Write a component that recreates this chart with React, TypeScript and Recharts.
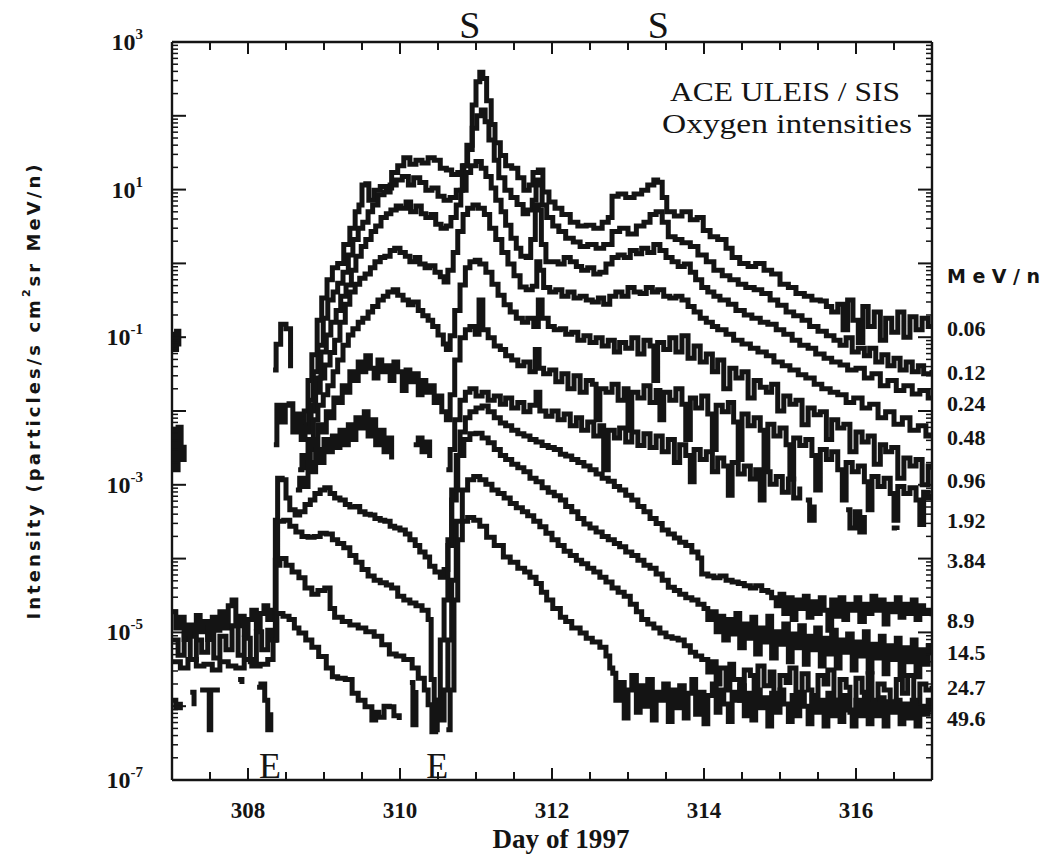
import { LineChart, Line, XAxis, YAxis } from "recharts"

type Pt = [number, number | null]

// Axis ticks
const DAY_TICKS = [307.5, 308, 308.5, 309, 309.5, 310, 310.5, 311, 311.5, 312, 312.5, 313, 313.5, 314, 314.5, 315, 315.5, 316, 316.5]
const DAY_LABELS = [308, 310, 312, 314, 316]
const DECADES = [-7, -6, -5, -4, -3, -2, -1, 0, 1, 2, 3]
const LABELED_DECADES = [3, 1, -1, -3, -5, -7]
const MINOR_STEPS = [2, 3, 4, 5, 6, 7, 8, 9]

// Event markers: S = shock, E = ejecta boundary
const SHOCK_DAYS = [310.92, 313.4]
const EJECTA_DAYS = [308.29, 310.49]

// Energy channels (MeV/n), top to bottom
const CHANNELS = ["0.06", "0.12", "0.24", "0.48", "0.96", "1.92", "3.84", "8.9", "14.5", "24.7", "49.6"]

// Oxygen intensities, [day of 1997, particles/(s cm2 sr MeV/n)]; null = data gap
const o006: Pt[] = [
  [307.0, 1.1e-1], [307.03, 6.8e-2], [307.06, 1.2e-1], [307.09, 7.5e-2], [307.1, null],
  [308.33, 3.6e-2], [308.37, 8.0e-2], [308.43, 1.5e-1], [308.5, 1.3e-1], [308.56, 3.8e-2], [308.6, null],
  [308.71, 6.5e-3], [308.74, 1.0e-2], [308.79, 2.6e-2], [308.84, 5.8e-2], [308.91, 1.7e-1], [308.97, 3.4e-1],
  [309.04, 6.0e-1], [309.11, 8.7e-1], [309.18, 1.0], [309.26, 1.8], [309.34, 3.0], [309.41, 5.0], [309.46, 6.2],
  [309.5, 11.5], [309.55, 12], [309.59, 7.2], [309.66, 9.8], [309.74, 11], [309.82, 10.5], [309.89, 17],
  [309.97, 21], [310.05, 27], [310.13, 22], [310.21, 25], [310.29, 23], [310.37, 27], [310.45, 25],
  [310.53, 19.5], [310.61, 18.5], [310.68, 16], [310.76, 17], [310.84, 21], [310.89, 35], [310.95, 140],
  [311.0, 290], [311.05, 390], [311.09, 320], [311.14, 160], [311.2, 76], [311.25, 43], [311.32, 29],
  [311.39, 21], [311.47, 19.5], [311.55, 14.5], [311.63, 9.8], [311.7, 11.5], [311.75, 17], [311.82, 18.5],
  [311.88, 9.3], [311.96, 6.8], [312.04, 5.6], [312.13, 4.6], [312.24, 3.6], [312.34, 3.2], [312.45, 3.3],
  [312.55, 3.0], [312.66, 3.6], [312.74, 4.2], [312.79, 8.1], [312.87, 8.7], [312.97, 7.8], [313.08, 8.7],
  [313.18, 9.8], [313.26, 11.5], [313.34, 13.5], [313.39, 12.6], [313.45, 7.8], [313.51, 5.0], [313.61, 4.4],
  [313.71, 5.0], [313.82, 3.9], [313.91, 4.2], [313.99, 2.8], [314.08, 2.3], [314.18, 2.1], [314.29, 1.6],
  [314.37, 1.2], [314.47, 1.0], [314.58, 0.91], [314.68, 1.0], [314.79, 0.81], [314.89, 0.72], [315.0, 0.52],
  [315.11, 0.47], [315.21, 0.39], [315.32, 0.36], [315.42, 0.32], [315.53, 0.31], [315.61, 0.26], [315.68, 0.22],
  [315.76, 0.28], [315.83, 0.126], [315.89, 0.32], [315.96, 0.17], [316.03, 0.085], [316.09, 0.26], [316.16, 0.14],
  [316.24, 0.22], [316.32, 0.091], [316.39, 0.18], [316.47, 0.117], [316.55, 0.22], [316.63, 0.1], [316.71, 0.19],
  [316.79, 0.126], [316.87, 0.18], [316.95, 0.14], [317.0, 0.15],
]

const o012: Pt[] = [
  [308.75, 6.5e-3], [308.8, 1.4e-2], [308.86, 3.4e-2], [308.92, 7.8e-2], [308.99, 1.8e-1], [309.05, 3.2e-1],
  [309.12, 4.1e-1], [309.18, 5.4e-1], [309.25, 7.6e-1], [309.32, 1.3], [309.38, 2.1], [309.45, 3.0], [309.51, 3.6],
  [309.58, 5.0], [309.64, 6.2], [309.71, 8.5], [309.79, 9.3], [309.87, 11.5], [309.95, 13.5], [310.03, 15],
  [310.11, 11.5], [310.18, 14.5], [310.26, 12.5], [310.34, 9.8], [310.42, 10.5], [310.5, 8.1], [310.58, 7.2],
  [310.66, 7.8], [310.74, 9.8], [310.82, 21], [310.88, 40], [310.95, 68], [311.01, 100], [311.07, 120],
  [311.12, 83], [311.17, 47], [311.24, 25], [311.3, 14.5], [311.38, 9.8], [311.46, 7.8], [311.54, 6.3],
  [311.62, 4.7], [311.68, 5.3], [311.74, 7.2], [311.79, 13.5], [311.83, 11.5], [311.87, 6.2], [311.93, 4.2],
  [312.01, 3.2], [312.09, 2.7], [312.18, 2.2], [312.28, 1.95], [312.37, 1.7], [312.47, 1.8], [312.58, 1.6],
  [312.68, 1.8], [312.79, 2.7], [312.89, 3.0], [313.0, 2.5], [313.11, 3.2], [313.21, 3.6], [313.29, 4.6],
  [313.37, 5.0], [313.45, 3.6], [313.53, 2.3], [313.62, 2.1], [313.71, 1.9], [313.82, 1.7], [313.92, 1.3],
  [314.03, 1.05], [314.13, 0.81], [314.24, 0.68], [314.34, 0.6], [314.45, 0.52], [314.55, 0.47], [314.66, 0.44],
  [314.76, 0.39], [314.87, 0.32], [314.97, 0.27], [315.08, 0.22], [315.18, 0.195], [315.29, 0.17], [315.39, 0.14],
  [315.5, 0.12], [315.61, 0.105], [315.71, 0.091], [315.79, 0.078], [315.87, 0.098], [315.95, 0.063],
  [316.03, 0.071], [316.11, 0.056], [316.18, 0.071], [316.26, 0.046], [316.34, 0.058], [316.42, 0.041],
  [316.5, 0.052], [316.58, 0.036], [316.66, 0.046], [316.74, 0.034], [316.82, 0.041], [316.89, 0.032], [317.0, 0.036],
]

const o024: Pt[] = [
  [308.76, 5.2e-3], [308.83, 1.2e-2], [308.89, 2.8e-2], [308.96, 6.3e-2], [309.03, 1.07e-1], [309.09, 1.6e-1],
  [309.16, 2.3e-1], [309.22, 3.6e-1], [309.29, 5.1e-1], [309.36, 8.1e-1], [309.42, 1.25], [309.49, 1.7],
  [309.55, 2.1], [309.62, 2.7], [309.68, 3.2], [309.75, 4.2], [309.82, 4.7], [309.88, 5.3], [309.95, 6.0],
  [310.01, 5.6], [310.08, 6.8], [310.14, 5.0], [310.21, 6.0], [310.28, 4.7], [310.34, 4.2], [310.41, 4.6],
  [310.47, 3.4], [310.54, 3.0], [310.61, 3.2], [310.67, 4.2], [310.74, 6.2], [310.8, 9.8], [310.87, 17],
  [310.93, 21], [311.0, 24], [311.07, 19.5], [311.13, 15], [311.2, 10.5], [311.26, 7.2], [311.33, 5.0],
  [311.39, 3.3], [311.46, 2.2], [311.53, 1.6], [311.59, 1.25], [311.66, 1.2], [311.72, 2.1], [311.78, 6.2],
  [311.82, 5.3], [311.86, 1.8], [311.92, 1.05], [312.0, 1.05], [312.08, 0.98], [312.16, 1.2], [312.24, 1.05],
  [312.32, 0.91], [312.39, 0.81], [312.47, 0.87], [312.55, 0.72], [312.63, 0.76], [312.71, 0.98], [312.79, 1.2],
  [312.87, 1.3], [312.95, 1.2], [313.03, 1.5], [313.11, 1.35], [313.18, 1.6], [313.26, 1.4], [313.34, 1.8],
  [313.42, 1.5], [313.5, 1.2], [313.58, 1.05], [313.66, 0.91], [313.74, 0.98], [313.82, 0.76], [313.89, 0.6],
  [313.97, 0.47], [314.05, 0.41], [314.13, 0.36], [314.21, 0.32], [314.32, 0.28], [314.42, 0.23], [314.53, 0.2],
  [314.63, 0.18], [314.74, 0.16], [314.84, 0.15], [314.95, 0.126], [315.05, 0.11], [315.16, 0.091], [315.26, 0.078],
  [315.37, 0.071], [315.47, 0.059], [315.58, 0.052], [315.68, 0.046], [315.79, 0.042], [315.89, 0.036],
  [316.0, 0.038], [316.11, 0.028], [316.21, 0.032], [316.32, 0.022], [316.42, 0.026], [316.53, 0.019],
  [316.63, 0.022], [316.74, 0.017], [316.84, 0.019], [316.95, 0.015], [317.0, 0.016],
]

const o048: Pt[] = [
  [308.34, 3.5e-3], [308.38, 1.2e-2], [308.43, 7.1e-3], [308.49, 1.2e-2], [308.54, 1.25e-2], [308.59, 5.2e-3],
  [308.64, 9.1e-3], [308.7, 4.1e-3], [308.75, 5.9e-3], [308.82, 1.0e-2], [308.88, 1.8e-2], [308.95, 2.8e-2],
  [309.01, 4.2e-2], [309.08, 6.2e-2], [309.14, 9.1e-2], [309.21, 1.6e-1], [309.28, 2.8e-1], [309.34, 4.1e-1],
  [309.41, 5.2e-1], [309.47, 6.3e-1], [309.54, 7.2e-1], [309.61, 8.7e-1], [309.67, 1.05], [309.74, 1.2],
  [309.8, 1.25], [309.87, 1.5], [309.93, 1.6], [310.0, 1.4], [310.07, 1.25], [310.13, 1.05], [310.2, 1.2],
  [310.26, 0.98], [310.33, 0.87], [310.39, 0.93], [310.46, 0.76], [310.53, 0.66], [310.58, 0.56], [310.63, 0.81],
  [310.7, 1.4], [310.76, 2.7], [310.83, 4.6], [310.89, 5.6], [310.96, 6.2], [311.03, 5.6], [311.11, 4.6],
  [311.18, 3.0], [311.26, 2.1], [311.34, 1.4], [311.42, 0.98], [311.5, 0.68], [311.58, 0.48], [311.66, 0.44],
  [311.74, 0.49], [311.8, 1.05], [311.84, 0.81], [311.89, 0.47], [311.97, 0.41], [312.05, 0.44], [312.13, 0.36],
  [312.21, 0.41], [312.29, 0.34], [312.37, 0.36], [312.45, 0.32], [312.53, 0.3], [312.61, 0.34], [312.68, 0.28],
  [312.76, 0.36], [312.84, 0.41], [312.92, 0.36], [313.0, 0.47], [313.08, 0.41], [313.16, 0.39], [313.24, 0.47],
  [313.32, 0.41], [313.39, 0.44], [313.47, 0.36], [313.55, 0.34], [313.63, 0.36], [313.71, 0.32], [313.79, 0.26],
  [313.87, 0.22], [313.95, 0.18], [314.03, 0.16], [314.11, 0.14], [314.18, 0.126], [314.29, 0.11], [314.39, 0.091],
  [314.5, 0.081], [314.61, 0.071], [314.71, 0.063], [314.82, 0.056], [314.92, 0.046], [315.03, 0.041],
  [315.13, 0.036], [315.24, 0.031], [315.34, 0.028], [315.45, 0.023], [315.55, 0.02], [315.66, 0.018],
  [315.76, 0.0166], [315.87, 0.013], [315.97, 0.015], [316.08, 0.011], [316.18, 0.0123], [316.29, 0.0081],
  [316.39, 0.0098], [316.5, 0.0066], [316.61, 0.0081], [316.71, 0.0055], [316.82, 0.0063], [316.92, 0.0046],
  [317.0, 0.0049],
]

const o096: Pt[] = [
  [307.0, 5.5e-3], [307.04, 1.6e-3], [307.08, 6.0e-3], [307.12, 2.2e-3], [307.16, 3.5e-3], [307.18, null],
  [308.72, 2.0e-3], [308.79, 4.1e-3], [308.86, 7.6e-3], [308.92, 1.2e-2], [308.99, 1.66e-2], [309.05, 2.2e-2],
  [309.12, 3.4e-2], [309.18, 4.9e-2], [309.25, 7.8e-2], [309.32, 1.07e-1], [309.38, 1.3e-1], [309.45, 1.6e-1],
  [309.51, 1.8e-1], [309.58, 2.2e-1], [309.64, 2.6e-1], [309.71, 3.2e-1], [309.78, 3.6e-1], [309.84, 4.1e-1],
  [309.91, 4.4e-1], [309.97, 3.7e-1], [310.04, 3.2e-1], [310.11, 2.75e-1], [310.17, 3.0e-1], [310.24, 2.3e-1],
  [310.3, 1.95e-1], [310.37, 1.7e-1], [310.43, 1.4e-1], [310.5, 1.07e-1], [310.57, 8.1e-2], [310.61, 6.8e-2],
  [310.66, 1.05e-1], [310.72, 2.3e-1], [310.79, 5.1e-1], [310.86, 8.7e-1], [310.92, 1.05], [310.99, 1.1],
  [311.05, 0.98], [311.13, 0.76], [311.21, 0.52], [311.29, 0.37], [311.37, 0.275], [311.45, 0.22], [311.53, 0.18],
  [311.61, 0.16], [311.68, 0.18], [311.76, 0.14], [311.82, 0.32], [311.87, 0.18], [311.95, 0.14], [312.03, 0.126],
  [312.11, 0.13], [312.18, 0.11], [312.26, 0.117], [312.34, 0.091], [312.42, 0.105], [312.5, 0.085],
  [312.58, 0.098], [312.66, 0.076], [312.74, 0.091], [312.82, 0.063], [312.89, 0.085], [312.97, 0.071],
  [313.05, 0.098], [313.13, 0.059], [313.21, 0.091], [313.29, 0.076], [313.34, 0.026], [313.39, 0.085],
  [313.47, 0.068], [313.55, 0.098], [313.63, 0.063], [313.71, 0.105], [313.79, 0.052], [313.87, 0.076],
  [313.95, 0.046], [314.03, 0.059], [314.11, 0.034], [314.18, 0.049], [314.26, 0.02], [314.34, 0.038],
  [314.42, 0.028], [314.5, 0.034], [314.58, 0.015], [314.66, 0.026], [314.74, 0.021], [314.82, 0.018],
  [314.89, 0.023], [314.97, 0.01], [315.05, 0.016], [315.13, 0.0123], [315.21, 0.014], [315.29, 0.0065],
  [315.37, 0.011], [315.45, 0.0089], [315.53, 0.0098], [315.61, 0.0041], [315.68, 0.0076], [315.76, 0.0059],
  [315.84, 0.0066], [315.92, 0.0028], [316.0, 0.0052], [316.08, 0.0038], [316.16, 0.0046], [316.24, 0.0019],
  [316.32, 0.0035], [316.39, 0.0028], [316.47, 0.0032], [316.55, 0.00123], [316.63, 0.0023], [316.71, 0.0018],
  [316.79, 0.0022], [316.87, 0.001], [316.95, 0.0018], [317.0, 0.0016],
]

const o192: Pt[] = [
  [308.66, 1.6e-3], [308.71, 2.5e-3], [308.76, 1.7e-3], [308.82, 4.1e-3], [308.87, 3.0e-3], [308.92, 6.5e-3],
  [308.97, 5.2e-3], [309.03, 9.8e-3], [309.08, 8.1e-3], [309.13, 1.5e-2], [309.18, 1.3e-2], [309.24, 2.2e-2],
  [309.29, 1.8e-2], [309.34, 3.4e-2], [309.39, 2.6e-2], [309.45, 4.6e-2], [309.5, 3.4e-2], [309.55, 5.6e-2],
  [309.61, 3.8e-2], [309.66, 2.8e-2], [309.71, 4.9e-2], [309.76, 3.4e-2], [309.82, 4.1e-2], [309.87, 2.6e-2],
  [309.92, 4.6e-2], [309.97, 3.4e-2], [310.03, 1.9e-2], [310.08, 3.6e-2], [310.13, 2.5e-2], [310.18, 3.2e-2],
  [310.24, 1.66e-2], [310.29, 2.6e-2], [310.34, 1.8e-2], [310.39, 2.2e-2], [310.45, 1.3e-2], [310.5, 1.6e-2],
  [310.55, 9.8e-3], [310.61, 7.6e-3], [310.66, 1.66e-2], [310.72, 4.9e-2], [310.79, 9.8e-2], [310.86, 1.26e-1],
  [310.92, 1.4e-1], [310.99, 1.1e-1], [311.04, 3.2e-1], [311.09, 1.26e-1], [311.16, 9.8e-2], [311.24, 7.6e-2],
  [311.32, 6.8e-2], [311.39, 5.6e-2], [311.47, 4.9e-2], [311.55, 4.1e-2], [311.63, 4.6e-2], [311.71, 3.4e-2],
  [311.78, 6.8e-2], [311.83, 3.8e-2], [311.89, 3.2e-2], [311.97, 3.6e-2], [312.05, 2.5e-2], [312.13, 3.2e-2],
  [312.21, 2.0e-2], [312.29, 3.0e-2], [312.37, 1.8e-2], [312.45, 2.6e-2], [312.53, 2.3e-2], [312.58, 7.6e-3],
  [312.63, 2.0e-2], [312.71, 1.8e-2], [312.79, 2.3e-2], [312.87, 1.4e-2], [312.95, 2.0e-2], [313.0, 5.5e-3],
  [313.05, 1.8e-2], [313.13, 1.5e-2], [313.21, 2.2e-2], [313.29, 1.3e-2], [313.37, 1.9e-2], [313.42, 7.6e-3],
  [313.47, 1.8e-2], [313.55, 1.4e-2], [313.63, 2.0e-2], [313.71, 1.23e-2], [313.76, 4.1e-3], [313.82, 1.5e-2],
  [313.89, 1.1e-2], [313.97, 1.6e-2], [314.05, 9.1e-3], [314.11, 3.0e-3], [314.16, 1.2e-2], [314.24, 9.8e-3],
  [314.32, 1.3e-2], [314.39, 7.1e-3], [314.45, 2.2e-3], [314.5, 9.1e-3], [314.58, 6.3e-3], [314.66, 8.1e-3],
  [314.74, 5.5e-3], [314.79, 1.7e-3], [314.84, 6.6e-3], [314.92, 4.6e-3], [315.0, 5.9e-3], [315.08, 3.5e-3],
  [315.13, 1.2e-3], [315.18, 4.3e-3], [315.26, 3.4e-3], [315.34, 4.1e-3], [315.42, 2.5e-3], [315.47, 8.5e-4],
  [315.53, 3.0e-3], [315.61, 2.2e-3], [315.68, 2.8e-3], [315.76, 1.6e-3], [315.82, 6.2e-4], [315.87, 2.0e-3],
  [315.95, 1.5e-3], [316.03, 1.8e-3], [316.11, 1.1e-3], [316.16, 4.6e-4], [316.21, 1.3e-3], [316.29, 9.5e-4],
  [316.37, 1.23e-3], [316.45, 7.6e-4], [316.5, 3.3e-4], [316.55, 9.5e-4], [316.63, 7.6e-4], [316.71, 9.1e-4],
  [316.79, 6.2e-4], [316.84, 2.9e-4], [316.89, 7.9e-4], [316.95, 6.6e-4], [317.0, 7.6e-4],
]

const o384: Pt[] = [
  [308.63, 8.5e-4], [308.68, 1.23e-3], [308.74, 9.5e-4], [308.79, 2.0e-3], [308.84, 1.5e-3], [308.89, 3.0e-3],
  [308.95, 2.0e-3], [309.0, 4.1e-3], [309.05, 2.8e-3], [309.11, 4.6e-3], [309.16, 3.2e-3], [309.21, 5.5e-3],
  [309.26, 3.5e-3], [309.32, 6.5e-3], [309.37, 4.1e-3], [309.42, 8.1e-3], [309.47, 5.9e-3], [309.53, 9.8e-3],
  [309.58, 4.6e-3], [309.63, 7.6e-3], [309.68, 3.5e-3], [309.74, 5.5e-3], [309.79, 2.8e-3], [309.84, 4.3e-3],
  [309.89, 2.2e-3], [309.9, null],
  [310.18, 3.5e-3], [310.24, 4.3e-3], [310.29, 2.8e-3], [310.34, 3.8e-3], [310.39, 2.3e-3], [310.4, null],
  [310.61, 1.6e-3], [310.66, 3.0e-3], [310.72, 7.6e-3], [310.79, 1.4e-2], [310.86, 1.8e-2], [310.92, 2.0e-2],
  [311.0, 1.6e-2], [311.08, 1.8e-2], [311.16, 1.4e-2], [311.24, 1.6e-2], [311.32, 1.23e-2], [311.39, 1.5e-2],
  [311.47, 1.1e-2], [311.55, 1.3e-2], [311.63, 9.8e-3], [311.71, 1.2e-2], [311.79, 1.8e-2], [311.84, 1.0e-2],
  [311.92, 8.5e-3], [312.0, 1.0e-2], [312.08, 7.6e-3], [312.16, 9.1e-3], [312.24, 6.3e-3], [312.32, 8.1e-3],
  [312.39, 5.5e-3], [312.47, 7.1e-3], [312.55, 4.6e-3], [312.63, 6.3e-3], [312.68, 1.6e-3], [312.74, 5.5e-3],
  [312.82, 4.3e-3], [312.89, 5.9e-3], [312.97, 3.8e-3], [313.05, 5.2e-3], [313.13, 3.4e-3], [313.21, 4.9e-3],
  [313.29, 3.2e-3], [313.37, 4.6e-3], [313.45, 2.8e-3], [313.53, 4.1e-3], [313.61, 2.0e-3], [313.68, 3.5e-3],
  [313.76, 2.5e-3], [313.82, 1.1e-3], [313.87, 3.0e-3], [313.95, 2.2e-3], [314.03, 2.8e-3], [314.11, 1.5e-3],
  [314.18, 2.3e-3], [314.26, 1.8e-3], [314.32, 7.2e-4], [314.37, 2.0e-3], [314.45, 1.4e-3], [314.53, 1.8e-3],
  [314.61, 1.2e-3], [314.68, 1.6e-3], [314.74, 6.2e-4], [314.79, 1.5e-3], [314.87, 1.02e-3], [314.95, 1.3e-3],
  [315.03, 7.9e-4], [315.11, 1.2e-3], [315.18, 6.6e-4], [315.26, 9.5e-4], [315.28, null],
  [315.34, 6.2e-4], [315.39, 3.3e-4], [315.45, 5.4e-4], [315.47, null],
  [315.87, 4.6e-4], [315.92, 2.6e-4], [315.99, 4.3e-4], [316.05, 2.3e-4], [316.11, 3.9e-4], [316.13, null],
  [316.47, 2.6e-4], [316.54, 2.45e-4], [316.56, null],
]

const s089: Pt[] = [
  [307.0, 1.9e-5], [307.05, 1.15e-5], [307.11, 1.6e-5], [307.16, 8.0e-6], [307.21, 1.26e-5], [307.26, 8.9e-6],
  [307.32, 1.7e-5], [307.37, 1.02e-5], [307.42, 1.4e-5], [307.47, 8.0e-6], [307.53, 1.6e-5], [307.58, 1.07e-5],
  [307.63, 1.9e-5], [307.68, 1.15e-5], [307.74, 2.3e-5], [307.79, 2.75e-5], [307.84, 1.23e-5], [307.89, 1.66e-5],
  [307.95, 9.5e-6], [308.0, 1.5e-5], [308.05, 2.0e-5], [308.11, 1.15e-5], [308.16, 1.8e-5], [308.21, 2.3e-5],
  [308.26, 1.5e-5], [308.32, 2.0e-5], [308.36, 3.3e-4], [308.39, 1.23e-3], [308.45, 1.17e-3], [308.5, 6.6e-4],
  [308.55, 4.6e-4], [308.62, 3.9e-4], [308.68, 4.3e-4], [308.75, 5.4e-4], [308.82, 6.2e-4], [308.88, 7.6e-4],
  [308.95, 8.5e-4], [309.01, 9.1e-4], [309.08, 7.6e-4], [309.14, 6.6e-4], [309.21, 6.2e-4], [309.28, 5.4e-4],
  [309.34, 5.0e-4], [309.41, 5.1e-4], [309.47, 4.3e-4], [309.54, 4.0e-4], [309.61, 3.9e-4], [309.67, 3.5e-4],
  [309.74, 3.3e-4], [309.8, 3.2e-4], [309.87, 2.75e-4], [309.93, 2.6e-4], [310.0, 2.45e-4], [310.07, 2.15e-4],
  [310.13, 1.8e-4], [310.2, 1.5e-4], [310.26, 1.23e-4], [310.33, 1.05e-4], [310.39, 7.9e-5], [310.46, 6.6e-5],
  [310.53, 5.6e-5], [310.58, 7.1e-5], [310.63, 1.5e-4], [310.68, 6.2e-4], [310.74, 2.5e-3], [310.79, 5.2e-3],
  [310.86, 8.1e-3], [310.92, 9.8e-3], [311.0, 1.1e-2], [311.08, 1.17e-2], [311.16, 9.8e-3], [311.24, 8.1e-3],
  [311.32, 6.9e-3], [311.39, 6.3e-3], [311.47, 5.5e-3], [311.55, 4.9e-3], [311.63, 4.6e-3], [311.71, 4.1e-3],
  [311.79, 3.8e-3], [311.87, 3.4e-3], [311.95, 3.2e-3], [312.03, 3.0e-3], [312.11, 2.6e-3], [312.18, 2.45e-3],
  [312.26, 2.2e-3], [312.34, 2.0e-3], [312.42, 1.8e-3], [312.5, 1.6e-3], [312.58, 1.4e-3], [312.66, 1.23e-3],
  [312.74, 1.12e-3], [312.82, 9.5e-4], [312.89, 8.5e-4], [312.97, 7.2e-4], [313.05, 6.2e-4], [313.13, 5.1e-4],
  [313.21, 4.3e-4], [313.29, 3.5e-4], [313.37, 3.0e-4], [313.45, 2.45e-4], [313.53, 2.15e-4], [313.61, 1.9e-4],
  [313.68, 1.66e-4], [313.76, 1.5e-4], [313.84, 1.23e-4], [313.92, 1.02e-4], [313.97, 6.2e-5], [314.05, 5.8e-5],
  [314.13, 5.5e-5], [314.21, 5.8e-5], [314.29, 5.1e-5], [314.37, 4.8e-5], [314.45, 4.6e-5], [314.53, 4.3e-5],
  [314.61, 4.0e-5], [314.68, 4.3e-5], [314.76, 3.7e-5], [314.84, 3.5e-5], [314.89, 2.95e-5], [314.95, 2.3e-5],
  [315.0, 3.3e-5], [315.05, 1.8e-5], [315.11, 2.95e-5], [315.16, 1.5e-5], [315.21, 2.75e-5], [315.26, 2.1e-5],
  [315.32, 3.1e-5], [315.37, 1.6e-5], [315.42, 2.6e-5], [315.47, 1.8e-5], [315.53, 2.95e-5], [315.58, 2.0e-5],
  [315.63, 1.07e-5], [315.68, 2.75e-5], [315.74, 1.66e-5], [315.79, 2.95e-5], [315.84, 1.5e-5], [315.89, 2.4e-5],
  [315.95, 2.0e-5], [316.0, 2.95e-5], [316.05, 1.4e-5], [316.11, 2.4e-5], [316.16, 1.8e-5], [316.21, 3.1e-5],
  [316.26, 2.0e-5], [316.32, 2.75e-5], [316.37, 1.3e-5], [316.42, 2.4e-5], [316.47, 1.9e-5], [316.53, 2.95e-5],
  [316.58, 1.6e-5], [316.63, 2.4e-5], [316.68, 1.8e-5], [316.74, 2.75e-5], [316.79, 1.5e-5], [316.84, 2.3e-5],
  [316.89, 1.8e-5], [316.95, 2.0e-5], [317.0, 1.66e-5],
]

const s145: Pt[] = [
  [307.0, 7.9e-6], [307.08, 4.9e-6], [307.16, 9.5e-6], [307.24, 4.3e-6], [307.32, 7.9e-6], [307.39, 5.4e-6],
  [307.47, 1.15e-5], [307.55, 4.5e-6], [307.63, 8.9e-6], [307.71, 5.8e-6], [307.79, 1.23e-5], [307.87, 4.9e-6],
  [307.95, 8.3e-6], [308.03, 4.0e-6], [308.11, 1.02e-5], [308.18, 5.8e-6], [308.26, 1.07e-5], [308.32, 7.9e-6],
  [308.36, 9.5e-5], [308.39, 3.2e-4], [308.47, 3.3e-4], [308.55, 2.75e-4], [308.63, 2.3e-4], [308.71, 2.0e-4],
  [308.79, 1.95e-4], [308.87, 2.0e-4], [308.95, 2.2e-4], [309.03, 2.15e-4], [309.11, 1.8e-4], [309.18, 1.6e-4],
  [309.26, 1.4e-4], [309.34, 1.1e-4], [309.42, 8.9e-5], [309.5, 7.1e-5], [309.58, 5.8e-5], [309.66, 5.1e-5],
  [309.74, 4.7e-5], [309.82, 4.4e-5], [309.89, 4.0e-5], [309.97, 3.1e-5], [310.05, 2.75e-5], [310.13, 2.5e-5],
  [310.21, 2.3e-5], [310.29, 2.0e-5], [310.37, 1.5e-5], [310.41, 2.3e-6], [310.45, 4.8e-7], [310.49, 1.2e-6],
  [310.53, 7.9e-6], [310.58, 2.75e-5], [310.63, 1.8e-4], [310.68, 8.5e-4], [310.76, 2.5e-3], [310.84, 4.1e-3],
  [310.92, 4.9e-3], [311.0, 5.0e-3], [311.08, 4.3e-3], [311.16, 3.7e-3], [311.24, 3.0e-3], [311.32, 2.5e-3],
  [311.39, 2.2e-3], [311.47, 1.9e-3], [311.55, 1.7e-3], [311.63, 1.5e-3], [311.71, 1.23e-3], [311.79, 1.1e-3],
  [311.87, 9.1e-4], [311.95, 7.9e-4], [312.03, 7.1e-4], [312.11, 6.2e-4], [312.18, 5.1e-4], [312.26, 4.3e-4],
  [312.34, 3.5e-4], [312.42, 2.95e-4], [312.5, 2.6e-4], [312.58, 2.3e-4], [312.66, 2.0e-4], [312.74, 1.8e-4],
  [312.82, 1.6e-4], [312.89, 1.45e-4], [312.97, 1.23e-4], [313.05, 1.1e-4], [313.13, 9.5e-5], [313.21, 8.1e-5],
  [313.29, 7.4e-5], [313.37, 6.2e-5], [313.45, 5.1e-5], [313.53, 4.1e-5], [313.61, 3.7e-5], [313.68, 3.3e-5],
  [313.76, 2.95e-5], [313.84, 2.75e-5], [313.92, 2.4e-5], [314.0, 2.1e-5], [314.05, 1.5e-5], [314.11, 1.9e-5],
  [314.16, 1.02e-5], [314.21, 1.66e-5], [314.26, 7.9e-6], [314.32, 1.5e-5], [314.37, 9.5e-6], [314.42, 1.8e-5],
  [314.47, 6.2e-6], [314.53, 1.3e-5], [314.58, 8.3e-6], [314.63, 1.6e-5], [314.68, 5.1e-6], [314.74, 1.15e-5],
  [314.79, 7.4e-6], [314.84, 1.66e-5], [314.89, 4.5e-6], [314.95, 1.02e-5], [315.0, 6.9e-6], [315.05, 1.3e-5],
  [315.11, 4.0e-6], [315.16, 9.5e-6], [315.21, 6.2e-6], [315.26, 1.23e-5], [315.32, 3.7e-6], [315.37, 8.9e-6],
  [315.42, 5.8e-6], [315.47, 1.15e-5], [315.53, 3.5e-6], [315.58, 8.3e-6], [315.63, 5.1e-6], [315.68, 1.07e-5],
  [315.74, 3.3e-6], [315.79, 7.9e-6], [315.84, 5.4e-6], [315.89, 9.5e-6], [315.95, 3.1e-6], [316.0, 7.4e-6],
  [316.05, 4.8e-6], [316.11, 1.02e-5], [316.16, 2.9e-6], [316.21, 6.9e-6], [316.26, 4.5e-6], [316.32, 8.9e-6],
  [316.37, 2.75e-6], [316.42, 6.6e-6], [316.47, 4.3e-6], [316.53, 8.3e-6], [316.58, 2.6e-6], [316.63, 6.2e-6],
  [316.68, 4.0e-6], [316.74, 7.9e-6], [316.79, 2.5e-6], [316.84, 5.8e-6], [316.89, 3.7e-6], [316.95, 6.6e-6],
  [317.0, 5.1e-6],
]

const s247: Pt[] = [
  [307.0, 4.0e-6], [307.11, 3.3e-6], [307.21, 4.3e-6], [307.32, 3.5e-6], [307.42, 3.7e-6], [307.53, 3.1e-6],
  [307.63, 4.0e-6], [307.74, 3.5e-6], [307.84, 3.3e-6], [307.95, 4.3e-6], [308.05, 3.5e-6], [308.16, 3.7e-6],
  [308.26, 4.3e-6], [308.33, 7.9e-6], [308.37, 8.1e-5], [308.42, 1.0e-4], [308.5, 8.1e-5], [308.58, 6.6e-5],
  [308.67, 5.5e-5], [308.75, 4.0e-5], [308.84, 3.3e-5], [308.92, 3.7e-5], [309.01, 4.0e-5], [309.08, 2.1e-5],
  [309.14, 1.6e-5], [309.24, 1.4e-5], [309.34, 1.26e-5], [309.45, 1.15e-5], [309.55, 1.02e-5], [309.66, 8.9e-6],
  [309.76, 6.8e-6], [309.86, 5.1e-6], [309.95, 4.8e-6], [310.05, 4.3e-6], [310.16, 3.3e-6], [310.24, 2.4e-6],
  [310.32, 1.66e-6], [310.37, 1.05e-6], [310.42, 4.5e-7], [310.47, 1.2e-6], [310.53, 6.5e-7], [310.58, 1.66e-6],
  [310.63, 7.9e-6], [310.68, 5.1e-5], [310.74, 3.2e-4], [310.82, 8.5e-4], [310.89, 1.17e-3], [310.97, 1.3e-3],
  [311.05, 1.17e-3], [311.13, 1.02e-3], [311.21, 8.5e-4], [311.29, 7.6e-4], [311.37, 6.6e-4], [311.45, 5.6e-4],
  [311.53, 4.9e-4], [311.61, 4.3e-4], [311.68, 3.8e-4], [311.76, 3.2e-4], [311.84, 2.7e-4], [311.92, 2.2e-4],
  [312.0, 1.8e-4], [312.08, 1.5e-4], [312.16, 1.26e-4], [312.24, 1.1e-4], [312.32, 9.5e-5], [312.39, 8.5e-5],
  [312.47, 7.4e-5], [312.55, 6.6e-5], [312.63, 5.6e-5], [312.71, 4.8e-5], [312.79, 4.0e-5], [312.87, 3.5e-5],
  [312.95, 3.1e-5], [313.03, 2.4e-5], [313.11, 1.9e-5], [313.18, 1.5e-5], [313.26, 1.3e-5], [313.34, 1.15e-5],
  [313.42, 9.8e-6], [313.5, 8.7e-6], [313.58, 8.3e-6], [313.66, 7.9e-6], [313.74, 6.6e-6], [313.82, 5.4e-6],
  [313.89, 4.8e-6], [313.97, 4.3e-6], [314.05, 2.9e-6], [314.11, 4.0e-6], [314.16, 2.0e-6], [314.21, 3.3e-6],
  [314.29, 1.66e-6], [314.34, 3.7e-6], [314.39, 2.3e-6], [314.47, 1.2e-6], [314.53, 3.1e-6], [314.61, 2.6e-6],
  [314.66, 1.5e-6], [314.71, 3.5e-6], [314.79, 1.9e-6], [314.87, 2.9e-6], [314.92, 1.07e-6], [315.0, 2.6e-6],
  [315.08, 2.1e-6], [315.13, 3.3e-6], [315.21, 1.4e-6], [315.29, 2.75e-6], [315.37, 1.66e-6], [315.42, 9.5e-7],
  [315.5, 2.6e-6], [315.58, 2.0e-6], [315.63, 3.1e-6], [315.71, 1.2e-6], [315.79, 2.3e-6], [315.87, 1.8e-6],
  [315.92, 8.3e-7], [316.0, 2.4e-6], [316.08, 1.55e-6], [316.16, 2.75e-6], [316.21, 1.2e-6], [316.29, 2.0e-6],
  [316.37, 1.66e-6], [316.45, 8.9e-7], [316.53, 2.3e-6], [316.61, 1.5e-6], [316.68, 2.6e-6], [316.76, 1.15e-6],
  [316.84, 2.0e-6], [316.92, 1.66e-6], [317.0, 1.9e-6],
]

const s496: Pt[] = [
  [307.0, 1.2e-6], [307.05, 9.5e-7], [307.11, 1.15e-6], [307.13, null],
  [307.24, 1.55e-6], [307.29, 1.0e-6], [307.31, null],
  [307.37, 1.66e-6], [307.45, 1.66e-6], [307.49, 4.8e-7], [307.51, 1.66e-6], [307.63, 1.66e-6], [307.65, null],
  [307.87, 2.3e-6], [307.92, 2.0e-6], [307.94, null],
  [308.12, 1.8e-6], [308.17, 2.0e-6], [308.22, 1.2e-6], [308.26, 4.8e-7], [308.3, 8.3e-7], [308.32, null],
  [308.34, 7.9e-6], [308.38, 1.8e-5], [308.46, 1.66e-5], [308.54, 1.5e-5], [308.61, 1.15e-5], [308.67, 9.8e-6],
  [308.76, 7.9e-6], [308.84, 6.3e-6], [308.93, 4.7e-6], [309.03, 3.3e-6], [309.11, 2.5e-6], [309.18, 2.4e-6],
  [309.28, 2.3e-6], [309.37, 1.5e-6], [309.45, 1.2e-6], [309.54, 9.8e-7], [309.63, 6.5e-7], [309.68, 8.3e-7],
  [309.72, 7.1e-7], [309.79, 1.0e-6], [309.86, 9.8e-7], [309.92, 7.4e-7], [309.99, 6.5e-7], [310.01, null],
  [310.13, 2.1e-6], [310.17, 5.6e-7], [310.21, 1.66e-6], [310.23, null],
  [310.61, 4.8e-7], [310.66, 1.66e-6], [310.71, 2.75e-5], [310.76, 1.8e-4], [310.82, 3.2e-4], [310.89, 3.6e-4],
  [310.97, 3.3e-4], [311.05, 2.75e-4], [311.14, 1.95e-4], [311.24, 1.5e-4], [311.36, 1.05e-4], [311.45, 8.9e-5],
  [311.55, 7.4e-5], [311.64, 6.6e-5], [311.71, 5.6e-5], [311.79, 4.6e-5], [311.86, 3.5e-5], [311.93, 2.75e-5],
  [312.01, 2.1e-5], [312.11, 1.6e-5], [312.18, 1.4e-5], [312.26, 1.15e-5], [312.37, 9.8e-6], [312.45, 8.3e-6],
  [312.53, 7.4e-6], [312.63, 6.3e-6], [312.71, 4.8e-6], [312.76, 3.3e-6], [312.8, 2.8e-6], [312.84, 1.2e-6],
  [312.89, 2.1e-6], [312.95, 6.9e-7], [313.0, 1.66e-6], [313.05, 2.6e-6], [313.11, 8.3e-7], [313.16, 1.9e-6],
  [313.21, 1.0e-6], [313.26, 2.3e-6], [313.32, 6.5e-7], [313.37, 1.55e-6], [313.42, 1.2e-6], [313.47, 2.0e-6],
  [313.53, 6.2e-7], [313.58, 1.66e-6], [313.63, 9.5e-7], [313.68, 1.9e-6], [313.74, 6.9e-7], [313.79, 1.5e-6],
  [313.84, 2.3e-6], [313.89, 7.8e-7], [313.95, 1.55e-6], [314.0, 5.8e-7], [314.05, 1.4e-6], [314.11, 2.0e-6],
  [314.16, 8.3e-7], [314.21, 1.66e-6], [314.26, 1.07e-6], [314.32, 6.2e-7], [314.37, 1.55e-6], [314.42, 1.2e-6],
  [314.47, 1.9e-6], [314.53, 7.4e-7], [314.58, 1.5e-6], [314.63, 6.5e-7], [314.68, 1.66e-6], [314.74, 9.5e-7],
  [314.79, 1.3e-6], [314.84, 5.4e-7], [314.89, 1.5e-6], [314.95, 8.3e-7], [315.0, 1.66e-6], [315.05, 1.07e-6],
  [315.11, 6.2e-7], [315.16, 1.4e-6], [315.21, 7.4e-7], [315.26, 1.55e-6], [315.32, 1.0e-6], [315.37, 5.8e-7],
  [315.42, 1.4e-6], [315.47, 8.3e-7], [315.53, 1.2e-6], [315.58, 5.4e-7], [315.63, 1.5e-6], [315.68, 7.4e-7],
  [315.74, 1.2e-6], [315.79, 6.2e-7], [315.84, 1.4e-6], [315.89, 8.9e-7], [315.95, 5.4e-7], [316.0, 1.2e-6],
  [316.05, 7.4e-7], [316.11, 1.5e-6], [316.16, 5.8e-7], [316.21, 1.07e-6], [316.26, 7.4e-7], [316.32, 1.3e-6],
  [316.37, 5.4e-7], [316.42, 1.15e-6], [316.47, 8.3e-7], [316.53, 1.2e-6], [316.58, 5.8e-7], [316.63, 1.07e-6],
  [316.68, 6.9e-7], [316.74, 1.2e-6], [316.79, 5.4e-7], [316.84, 1.0e-6], [316.89, 7.8e-7], [316.95, 1.2e-6],
  [317.0, 8.3e-7],
]

const SERIES: Pt[][] = [o006, o012, o024, o048, o096, o192, o384, s089, s145, s247, s496]

// Layout
const W = 1041
const H = 865
const PLOT = { left: 172, top: 42, right: 932, bottom: 780 }
const CHANNEL_LABEL_Y = [328, 372, 403, 437, 480, 520, 560, 620, 652, 687, 718]
const INK = "#141414"
const NUM_FONT = "Liberation Serif"

const INTENSITY_TICKS = DECADES.flatMap(d =>
  d === 3 ? [10 ** d] : [10 ** d, ...MINOR_STEPS.map(m => m * 10 ** d)]
)

const dayToX = (d: number) => PLOT.left + ((d - 307) / 10) * (PLOT.right - PLOT.left)

function decadeOf(v: number) {
  const lg = Math.log10(v)
  const dec = Math.round(lg)
  return { dec, major: Math.abs(lg - dec) < 1e-6 }
}

function BottomTick(props: any) {
  const { x, y, payload } = props
  const v = payload.value as number
  const labeled = DAY_LABELS.includes(v)
  return (
    <g>
      <line x1={x} y1={y} x2={x} y2={y - (labeled ? 12 : 8)} stroke={INK} strokeWidth={2} />
      {labeled && (
        <text x={x} y={818} textAnchor="middle" fontFamily={NUM_FONT} fontWeight={700} fontSize={23} fill={INK}>
          {v}
        </text>
      )}
    </g>
  )
}

function TopTick(props: any) {
  const { x, y, payload } = props
  const labeled = DAY_LABELS.includes(payload.value)
  return <line x1={x} y1={y} x2={x} y2={y + (labeled ? 12 : 8)} stroke={INK} strokeWidth={2} />
}

function LeftTick(props: any) {
  const { x, y, payload } = props
  const { dec, major } = decadeOf(payload.value)
  return (
    <g>
      <line x1={x} y1={y} x2={x + (major ? 14 : 6)} y2={y} stroke={INK} strokeWidth={major ? 2 : 1.5} />
      {major && LABELED_DECADES.includes(dec) && (
        <text x={x - 29} y={y + 8} textAnchor="end" fontFamily={NUM_FONT} fontWeight={700} fontSize={24} fill={INK}>
          10
          <tspan dy={-11} fontSize={15}>{dec}</tspan>
        </text>
      )}
    </g>
  )
}

function RightTick(props: any) {
  const { x, y, payload } = props
  const { major } = decadeOf(payload.value)
  return <line x1={x} y1={y} x2={x - (major ? 14 : 6)} y2={y} stroke={INK} strokeWidth={major ? 2 : 1.5} />
}

const axisLine = { stroke: INK, strokeWidth: 2.4 }

export default function App() {
  return (
    <div style={{ position: "relative", width: W, height: H, background: "#fff", overflow: "hidden" }}>
      <style>{"body{margin:0}"}</style>
      <LineChart
        width={W}
        height={H}
        margin={{ top: PLOT.top - 30, right: W - PLOT.right - 60, bottom: H - PLOT.bottom - 30, left: PLOT.left - 60 }}
      >
        <XAxis
          xAxisId="b"
          type="number"
          dataKey="day"
          domain={[307, 317]}
          allowDataOverflow
          ticks={DAY_TICKS}
          interval={0}
          tickSize={0}
          tickMargin={0}
          tickLine={false}
          tick={BottomTick}
          axisLine={axisLine}
          height={30}
        />
        <XAxis
          xAxisId="t"
          orientation="top"
          type="number"
          dataKey="day"
          domain={[307, 317]}
          allowDataOverflow
          ticks={DAY_TICKS}
          interval={0}
          tickSize={0}
          tickMargin={0}
          tickLine={false}
          tick={TopTick}
          axisLine={axisLine}
          height={30}
        />
        <YAxis
          yAxisId="l"
          type="number"
          scale="log"
          domain={[1e-7, 1e3]}
          allowDataOverflow
          ticks={INTENSITY_TICKS}
          interval={0}
          tickSize={0}
          tickMargin={0}
          tickLine={false}
          tick={LeftTick}
          axisLine={axisLine}
          width={60}
        />
        <YAxis
          yAxisId="r"
          orientation="right"
          type="number"
          scale="log"
          domain={[1e-7, 1e3]}
          allowDataOverflow
          ticks={INTENSITY_TICKS}
          interval={0}
          tickSize={0}
          tickMargin={0}
          tickLine={false}
          tick={RightTick}
          axisLine={axisLine}
          width={60}
        />
        {SERIES.map((pts, i) => (
          <Line
            key={CHANNELS[i]}
            name={CHANNELS[i]}
            data={pts.map(([day, v]) => ({ day, v }))}
            dataKey="v"
            xAxisId="b"
            yAxisId="l"
            type="stepAfter"
            stroke={INK}
            strokeWidth={5}
            dot={false}
            activeDot={false}
            connectNulls={false}
            isAnimationActive={false}
          />
        ))}
      </LineChart>

      <svg width={W} height={H} style={{ position: "absolute", left: 0, top: 0, pointerEvents: "none" }}>
        {SHOCK_DAYS.map(d => (
          <text key={"S" + d} x={dayToX(d)} y={38} textAnchor="middle" fontFamily="Liberation Serif" fontSize={38} fill={INK}>
            S
          </text>
        ))}
        {EJECTA_DAYS.map(d => (
          <text key={"E" + d} x={dayToX(d)} y={778} textAnchor="middle" fontFamily="Liberation Serif" fontSize={36} fill={INK}>
            E
          </text>
        ))}

        <text x={785} y={101} textAnchor="middle" fontFamily="Liberation Serif" fontSize={27} fill={INK} textLength={230} lengthAdjust="spacingAndGlyphs">
          ACE ULEIS / SIS
        </text>
        <text x={787} y={133} textAnchor="middle" fontFamily="Liberation Serif" fontSize={27} fill={INK} textLength={250} lengthAdjust="spacingAndGlyphs">
          Oxygen intensities
        </text>

        <text x={947} y={283} fontFamily="DejaVu Sans" fontWeight={700} fontSize={19} fill={INK} textLength={93} lengthAdjust="spacing">
          MeV/n
        </text>
        {CHANNELS.map((c, i) => (
          <text key={c} x={947} y={CHANNEL_LABEL_Y[i]} dominantBaseline="central" fontFamily={NUM_FONT} fontWeight={700} fontSize={22} fill={INK}>
            {c}
          </text>
        ))}

        <text
          transform="rotate(-90)"
          x={-392}
          y={33}
          textAnchor="middle"
          dominantBaseline="central"
          fontFamily="DejaVu Sans"
          fontWeight={700}
          fontSize={18}
          fill={INK}
          textLength={455}
          lengthAdjust="spacing"
        >
          Intensity (particles/s cm<tspan dy={-7} fontSize={11}>2</tspan><tspan dy={7}>sr MeV/n)</tspan>
        </text>
        <text x={561} y={848} textAnchor="middle" fontFamily={NUM_FONT} fontWeight={700} fontSize={28} fill={INK} textLength={137} lengthAdjust="spacingAndGlyphs">
          Day of 1997
        </text>
      </svg>
    </div>
  )
}
